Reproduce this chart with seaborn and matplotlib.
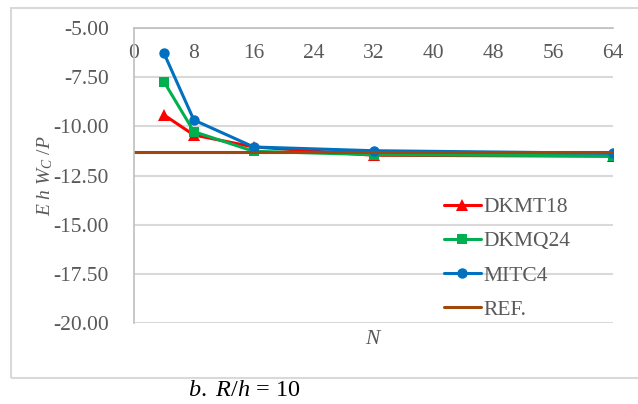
import matplotlib
matplotlib.use("Agg")
import matplotlib.pyplot as plt
from matplotlib.patches import Rectangle
from matplotlib.ticker import FormatStrFormatter
import seaborn as sns
import pandas as pd

# Mesh density N and normalised centre deflection E h W_C / P
n_mesh = [4, 8, 16, 32, 64]
dkmt18 = [-9.42, -10.44, -11.05, -11.47, -11.52]
dkmq24 = [-7.73, -10.27, -11.27, -11.44, -11.50]
mitc4 = [-6.28, -9.68, -11.05, -11.24, -11.37]
ref_n = [0, 64]
ref_val = [-11.32, -11.32]

x_ticks = [0, 8, 16, 24, 32, 40, 48, 56, 64]
y_ticks = [-5.0, -7.5, -10.0, -12.5, -15.0, -17.5, -20.0]

sns.set_theme(style="white")
plt.rcParams["font.family"] = ["Liberation Serif", "DejaVu Serif"]
plt.rcParams["mathtext.fontset"] = "custom"
plt.rcParams["mathtext.rm"] = "Liberation Serif"
plt.rcParams["mathtext.it"] = "Liberation Serif:italic"
plt.rcParams["axes.unicode_minus"] = False

TXT = "#595959"
GRID = "#D9D9D9"
AXIS = "#BFBFBF"
FS = 15.5

fig = plt.figure(figsize=(6.38, 4.04), dpi=100)
ax = fig.add_axes([134 / 638, 1 - 323 / 404, (613 - 134) / 638, (323 - 28) / 404])

series = [
    ("DKMT18", n_mesh, dkmt18, "#FF0000", "^", 8),
    ("DKMQ24", n_mesh, dkmq24, "#00B050", "s", 7),
    ("MITC4", n_mesh, mitc4, "#0070C0", "o", 7.5),
]
for name, xs, ys, col, mk, ms in series:
    df = pd.DataFrame({"N": xs, "W": ys})
    sns.lineplot(data=df, x="N", y="W", ax=ax, color=col, marker=mk,
                 markersize=ms, markeredgewidth=0, linewidth=2.2,
                 label=name, sort=False)

ref_df = pd.DataFrame({"N": ref_n, "W": ref_val})
sns.lineplot(data=ref_df, x="N", y="W", ax=ax, color="#9E480E",
             linewidth=2.2, label="REF.", sort=False)

ax.set_xlim(0, 64)
ax.set_ylim(-20, -5)
ax.set_xticks(x_ticks)
ax.set_yticks(y_ticks)
ax.yaxis.set_major_formatter(FormatStrFormatter("%.2f"))
ax.xaxis.set_ticks_position("top")
ax.tick_params(axis="x", top=False, bottom=False, labeltop=True,
               labelbottom=False, pad=-31, labelsize=FS, labelcolor=TXT)
ax.tick_params(axis="y", left=False, pad=12, labelsize=FS, labelcolor=TXT)

ax.grid(axis="y", color=GRID, linewidth=1.5)
ax.grid(axis="x", visible=False)
for side in ["right", "bottom"]:
    ax.spines[side].set_visible(False)
for side in ["left", "top"]:
    ax.spines[side].set_color(AXIS)
    ax.spines[side].set_linewidth(1.2)

ax.xaxis.set_label_position("bottom")
ax.set_xlabel(r"$N$", fontsize=FS, color=TXT, labelpad=5)
ax.set_ylabel(r"$E\ h\ W_C\ /P$", fontsize=14, color=TXT, labelpad=-1)

ax.legend(loc="upper left", bbox_to_anchor=(444 / 638, 1 - 197 / 404),
          bbox_transform=fig.transFigure, frameon=False, fontsize=FS,
          handlelength=1.7, handletextpad=0.15, labelspacing=0.66,
          borderaxespad=0, borderpad=0, labelcolor=TXT)

# chart frame
fig.patches.append(Rectangle((11 / 638, 1 - 378 / 404), 640 / 638, 370 / 404,
                             transform=fig.transFigure, fill=False,
                             edgecolor=GRID, linewidth=1.5))

fig.text(188 / 638, 1 - 391 / 404, r"$b.\ R/h$ = 10", fontsize=17.5,
         color="black", ha="left", va="center")

fig.savefig("out.png", dpi=100)
